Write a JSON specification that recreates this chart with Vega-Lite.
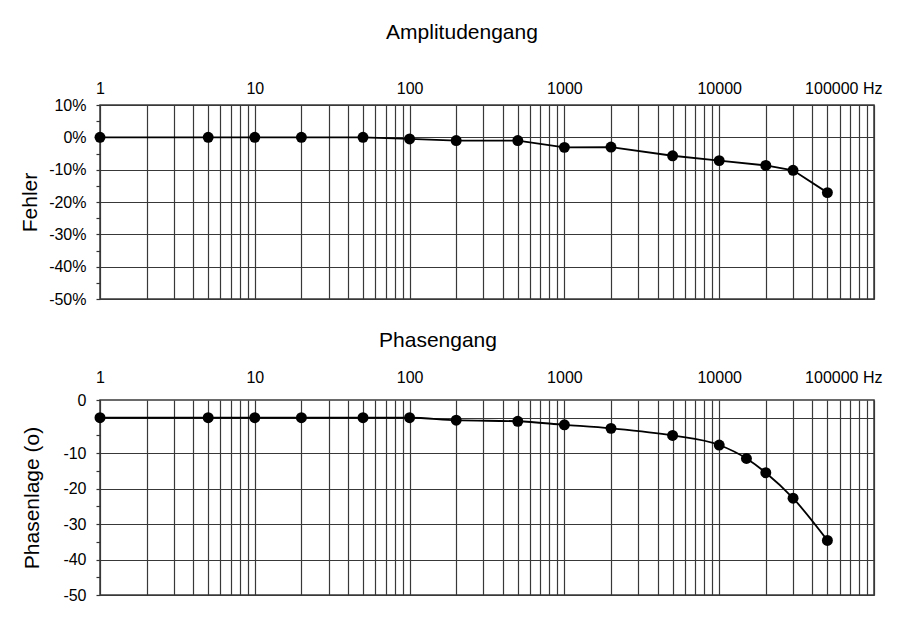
{
  "$schema": "https://vega.github.io/schema/vega-lite/v6.json",
  "background": "white",
  "padding": {"left": 18, "top": 20, "right": 5, "bottom": 5},
  "config": {
    "font": "Liberation Sans",
    "view": {"stroke": "#3a3a3a", "strokeWidth": 1.5},
    "axis": {
      "labelFont": "Liberation Sans", "labelFontSize": 16, "labelColor": "#000",
      "titleFont": "Liberation Sans", "titleFontSize": 21, "titleFontWeight": "normal", "titleColor": "#000",
      "domain": false, "gridColor": "#383838", "gridWidth": 1.2, "gridOpacity": 1,
      "tickColor": "#333", "tickWidth": 1.2, "labelOverlap": false
    },
    "title": {"font": "Liberation Sans", "fontSize": 21, "fontWeight": "normal", "color": "#000"}
  },
  "datasets": {
    "amp": [
      {"freq": 1, "fehler": 0},
      {"freq": 5, "fehler": 0},
      {"freq": 10, "fehler": 0},
      {"freq": 20, "fehler": 0},
      {"freq": 50, "fehler": 0},
      {"freq": 100, "fehler": -0.5},
      {"freq": 200, "fehler": -1},
      {"freq": 500, "fehler": -1},
      {"freq": 1000, "fehler": -3.1},
      {"freq": 2000, "fehler": -3},
      {"freq": 5000, "fehler": -5.7},
      {"freq": 10000, "fehler": -7.2},
      {"freq": 20000, "fehler": -8.7},
      {"freq": 30000, "fehler": -10.2},
      {"freq": 50000, "fehler": -17.1}
    ],
    "phase": [
      {"freq": 1, "phase": 0},
      {"freq": 5, "phase": 0},
      {"freq": 10, "phase": 0},
      {"freq": 20, "phase": 0},
      {"freq": 50, "phase": 0},
      {"freq": 100, "phase": 0},
      {"freq": 200, "phase": -0.7},
      {"freq": 500, "phase": -1},
      {"freq": 1000, "phase": -2},
      {"freq": 2000, "phase": -3},
      {"freq": 5000, "phase": -5},
      {"freq": 10000, "phase": -7.7},
      {"freq": 15000, "phase": -11.5},
      {"freq": 20000, "phase": -15.5},
      {"freq": 30000, "phase": -22.7},
      {"freq": 50000, "phase": -34.6}
    ]
  },
  "spacing": 21,
  "vconcat": [
    {
      "width": 774,
      "height": 194,
      "title": {"text": "Amplitudengang", "frame": "group", "dx": -25, "offset": 38},
      "data": {"name": "amp"},
      "encoding": {
        "x": {
          "field": "freq", "type": "quantitative",
          "scale": {"type": "log", "domain": [1, 100000], "nice": false},
          "axis": {
            "orient": "top", "title": null, "ticks": false, "labelPadding": 8.5, "format": "d",
            "values": [1,2,3,4,5,6,7,8,9,10,20,30,40,50,60,70,80,90,100,200,300,400,500,600,700,800,900,1000,2000,3000,4000,5000,6000,7000,8000,9000,10000,20000,30000,40000,50000,60000,70000,80000,90000,100000],
            "labelExpr": "datum.value == 100000 ? '100000 Hz' : ((datum.value == 1 || datum.value == 10 || datum.value == 100 || datum.value == 1000 || datum.value == 10000) ? datum.label : '')",
            "labelAlign": {"condition": {"test": "datum.value == 100000", "value": "right"}, "value": "center"},
            "labelOffset": {"condition": {"test": "datum.value == 100000", "value": 8}, "value": 0}
          }
        },
        "y": {
          "field": "fehler", "type": "quantitative",
          "scale": {"domain": [-50, 10], "nice": false},
          "axis": {
            "title": "Fehler", "titlePadding": 8, "tickSize": 4, "labelPadding": 10,
            "values": [-50,-45,-40,-35,-30,-25,-20,-15,-10,-5,0,5,10],
            "labelExpr": "datum.value % 10 == 0 ? datum.value + '%' : ''",
            "gridOpacity": {"condition": {"test": "datum.value % 10 != 0", "value": 0}, "value": 1}
          }
        }
      },
      "layer": [
        {"mark": {"type": "line", "color": "black", "strokeWidth": 1.8}},
        {"mark": {"type": "point", "filled": true, "color": "black", "size": 120, "opacity": 1}}
      ]
    },
    {
      "width": 774,
      "height": 195,
      "title": {"text": "Phasengang", "frame": "group", "dx": -49, "offset": 18},
      "data": {"name": "phase"},
      "encoding": {
        "x": {
          "field": "freq", "type": "quantitative",
          "scale": {"type": "log", "domain": [1, 100000], "nice": false},
          "axis": {
            "orient": "top", "title": null, "ticks": false, "labelPadding": 15, "format": "d",
            "values": [1,2,3,4,5,6,7,8,9,10,20,30,40,50,60,70,80,90,100,200,300,400,500,600,700,800,900,1000,2000,3000,4000,5000,6000,7000,8000,9000,10000,20000,30000,40000,50000,60000,70000,80000,90000,100000],
            "labelExpr": "datum.value == 100000 ? '100000 Hz' : ((datum.value == 1 || datum.value == 10 || datum.value == 100 || datum.value == 1000 || datum.value == 10000) ? datum.label : '')",
            "labelAlign": {"condition": {"test": "datum.value == 100000", "value": "right"}, "value": "center"},
            "labelOffset": {"condition": {"test": "datum.value == 100000", "value": 8}, "value": 0}
          }
        },
        "y": {
          "field": "phase", "type": "quantitative",
          "scale": {"domain": [-50, 5], "nice": false},
          "axis": {
            "title": "Phasenlage  (o)", "titlePadding": 20, "tickSize": 4, "labelPadding": 10,
            "values": [-50,-45,-40,-35,-30,-25,-20,-15,-10,-5,0,5],
            "labelExpr": "datum.value == 5 ? '0' : ((datum.value % 10 == 0 && datum.value != 0) ? datum.value + '' : '')",
            "gridOpacity": {"condition": {"test": "datum.value % 10 != 0", "value": 0}, "value": 1}
          }
        }
      },
      "layer": [
        {"mark": {"type": "line", "color": "black", "strokeWidth": 1.8, "interpolate": "monotone"}},
        {"mark": {"type": "point", "filled": true, "color": "black", "size": 120, "opacity": 1}}
      ]
    }
  ]
}
